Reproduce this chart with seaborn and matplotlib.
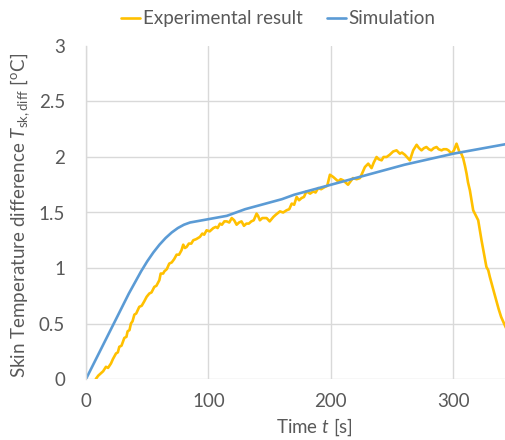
import matplotlib
matplotlib.use("Agg")
import matplotlib.pyplot as plt
import seaborn as sns
import pandas as pd

# Simulation curve
sim_time = [0, 5, 10, 15, 20, 25, 30, 35, 40, 45, 50, 55, 60, 65, 70, 75, 80, 85, 90, 95,
            100, 105, 110, 115, 120, 130, 140, 150, 160, 170, 180, 190, 200, 210, 220,
            240, 260, 280, 300, 320, 345]
sim_temp = [0.0, 0.11, 0.22, 0.33, 0.44, 0.55, 0.66, 0.77, 0.87, 0.97, 1.06, 1.14, 1.21, 1.27,
            1.32, 1.36, 1.39, 1.41, 1.42, 1.43, 1.44, 1.45, 1.46, 1.47, 1.49, 1.53, 1.56, 1.59,
            1.62, 1.66, 1.69, 1.72, 1.75, 1.78, 1.81, 1.87, 1.93, 1.98, 2.03, 2.07, 2.12]

# Experimental measurement
exp_time = [8, 10, 12, 14, 16.3, 18, 20.4, 22, 24.5, 26, 27.2, 29, 31.3, 33, 34, 35.5, 36.7, 38,
            39.5, 41, 43.5, 45.5, 47.6, 49.5, 51.7, 53.5, 55.8, 57.5, 59.9, 61, 63, 64, 66, 68,
            70, 72, 74, 76, 78, 79.4, 80.8, 82.2, 84, 86, 87.6, 90, 93, 95, 96.5, 98.5, 101,
            104, 106, 107.5, 109.4, 111, 113, 114.9, 117, 119, 121, 123, 125, 127, 129, 131,
            133, 135, 137, 139.3, 140.5, 142, 144, 147.5, 150, 153, 155, 158.4, 161, 163.8,
            166, 168, 170, 172, 174, 176, 178, 180, 183, 185.6, 187.5, 189.6, 192, 195, 197,
            199.2, 201.9, 204, 206, 208, 210, 212, 214, 216, 218, 221, 223.7, 225, 227.8,
            230.5, 233.2, 235, 237.3, 239, 241.4, 243, 245.5, 248, 250.9, 253.6, 256.3, 258,
            260.4, 262, 264.5, 266, 267.2, 270, 272, 274, 276, 278, 280, 282, 284, 286.3, 288,
            290.4, 292, 294.4, 296, 298.5, 300.5, 302.6, 304.8, 306.5, 308, 309.5, 310.8, 312,
            313.5, 315, 316.2, 318, 320.3, 321.5, 323, 325, 327, 328.5, 329.8, 331.5, 333, 335,
            337, 339, 341, 343, 345]
exp_temp = [0.0, 0.03, 0.05, 0.07, 0.11, 0.10, 0.14, 0.18, 0.23, 0.24, 0.29, 0.30, 0.37, 0.38,
            0.43, 0.44, 0.50, 0.52, 0.58, 0.59, 0.65, 0.66, 0.70, 0.74, 0.77, 0.78, 0.83, 0.84,
            0.89, 0.95, 0.95, 0.97, 0.99, 1.04, 1.05, 1.08, 1.12, 1.12, 1.16, 1.21, 1.18, 1.19,
            1.22, 1.22, 1.25, 1.26, 1.28, 1.31, 1.30, 1.34, 1.33, 1.36, 1.37, 1.36, 1.40, 1.39,
            1.42, 1.42, 1.41, 1.45, 1.43, 1.39, 1.41, 1.42, 1.38, 1.40, 1.40, 1.42, 1.43, 1.49,
            1.47, 1.43, 1.45, 1.45, 1.42, 1.46, 1.48, 1.51, 1.50, 1.52, 1.53, 1.58, 1.57, 1.64,
            1.61, 1.63, 1.64, 1.69, 1.67, 1.69, 1.68, 1.72, 1.71, 1.73, 1.74, 1.84, 1.82, 1.80,
            1.78, 1.80, 1.79, 1.77, 1.75, 1.78, 1.81, 1.80, 1.81, 1.84, 1.91, 1.94, 1.90, 1.95,
            2.00, 1.98, 1.97, 2.00, 2.00, 2.02, 2.05, 2.06, 2.03, 2.04, 2.02, 2.00, 1.97, 2.02,
            2.06, 2.11, 2.08, 2.06, 2.08, 2.09, 2.07, 2.06, 2.08, 2.09, 2.07, 2.06, 2.07, 2.07,
            2.06, 2.03, 2.06, 2.12, 2.05, 2.03, 1.99, 1.92, 1.85, 1.77, 1.70, 1.60, 1.52, 1.48,
            1.43, 1.35, 1.25, 1.13, 1.01, 0.98, 0.92, 0.85, 0.79, 0.71, 0.63, 0.56, 0.51, 0.46,
            0.42]

x_ticks = [0, 100, 200, 300]
y_ticks = [0, 0.5, 1, 1.5, 2, 2.5, 3]
y_tick_labels = ["0", "0.5", "1", "1.5", "2", "2.5", "3"]

sns.set_style("white")
plt.rcParams["font.family"] = ["Lato", "DejaVu Sans"]
plt.rcParams["mathtext.fontset"] = "custom"
plt.rcParams["mathtext.rm"] = "Lato"
plt.rcParams["mathtext.it"] = "Lato:italic"

gold = "#FFC000"
blue = "#5B9BD5"
grey_txt = "#595959"
fs = 13.5

exp_df = pd.DataFrame({"time": exp_time, "temp": exp_temp})
sim_df = pd.DataFrame({"time": sim_time, "temp": sim_temp})

fig = plt.figure(figsize=(5.06, 4.40), dpi=100)
ax = fig.add_axes([86 / 506, 61 / 440, 1 - 86 / 506, 333 / 440])

sns.lineplot(data=exp_df, x="time", y="temp", ax=ax, color=gold, linewidth=1.9,
             label="Experimental result", sort=False)
sns.lineplot(data=sim_df, x="time", y="temp", ax=ax, color=blue, linewidth=1.9,
             label="Simulation", sort=False)

ax.set_xlim(0, 343)
ax.set_ylim(0, 3)
ax.set_xticks(x_ticks)
ax.set_yticks(y_ticks)
ax.set_yticklabels(y_tick_labels)
ax.tick_params(axis="both", length=0, labelsize=fs, labelcolor=grey_txt)
ax.tick_params(axis="x", pad=10)
ax.tick_params(axis="y", pad=15)

ax.grid(True, color="#D9D9D9", linewidth=1.0)
ax.set_axisbelow(True)
ax.yaxis.get_gridlines()[-1].set_visible(False)
for side in ["top", "right", "bottom"]:
    ax.spines[side].set_visible(False)
ax.spines["left"].set_color("#D9D9D9")
ax.spines["left"].set_linewidth(1.0)

ax.set_xlabel("Time $t$ [s]", fontsize=fs, color=grey_txt)
ax.xaxis.set_label_coords(0.543, -0.114)
ax.set_ylabel(r"Skin Temperature difference $T_{\mathrm{sk,diff}}$ [$^{\mathrm{o}}$C]",
              fontsize=fs, color=grey_txt)
ax.yaxis.set_label_coords(-0.128, 0.49)

handles, labels = ax.get_legend_handles_labels()
ax.legend_.remove()
leg = fig.legend(handles, labels, loc="upper center", bbox_to_anchor=(0.55, 1.015),
                 ncol=2, frameon=False, fontsize=fs, handlelength=1.0,
                 handletextpad=0.15, columnspacing=1.3)
for t in leg.get_texts():
    t.set_color(grey_txt)

fig.savefig("out.png", dpi=100)
